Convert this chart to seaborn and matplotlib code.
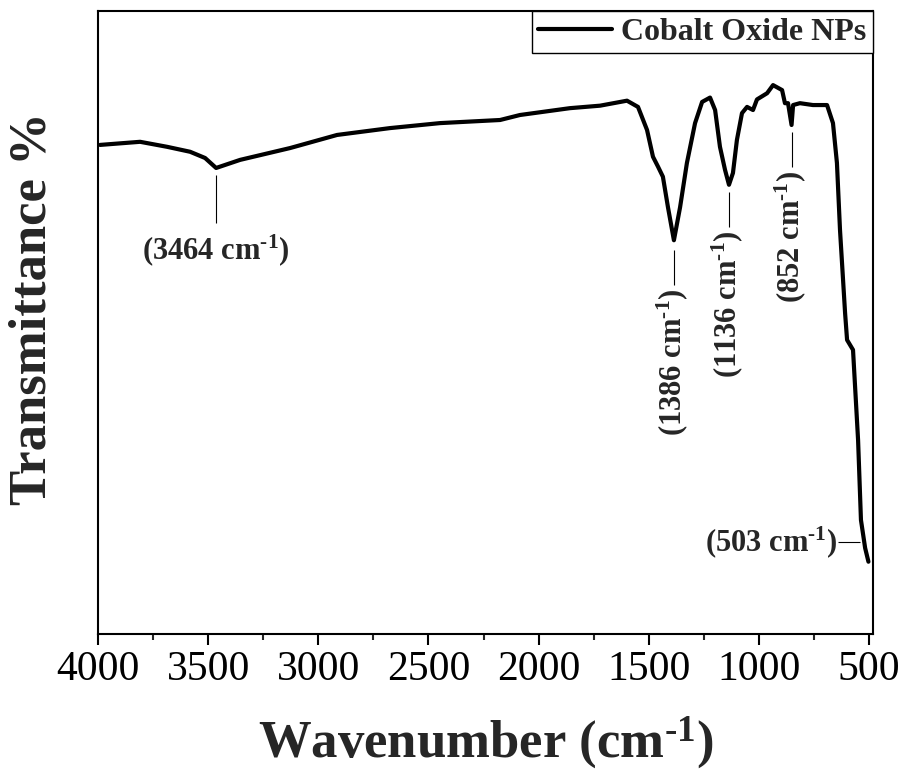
import numpy as np
import pandas as pd
import matplotlib
matplotlib.use("Agg")
import matplotlib.pyplot as plt
import seaborn as sns

# ---- data ----
wavenumber = [3991, 3809, 3687, 3582, 3514, 3464, 3355, 3128, 2915, 2675, 2448,
              2175, 2085, 1858, 1721, 1599, 1549, 1508, 1481, 1458, 1436, 1413,
              1386, 1358, 1327, 1290, 1258, 1222, 1199, 1177, 1154, 1136, 1118,
              1100, 1077, 1054, 1027, 1009, 963, 936, 895, 882, 868, 852, 845,
              814, 755, 691, 664, 646, 632, 609, 600, 573, 550, 537, 518, 503]
transmittance = [78.5, 79.0, 78.2, 77.4, 76.4, 74.8, 76.1, 78.0, 80.1, 81.2, 82.0,
                 82.5, 83.3, 84.4, 84.8, 85.6, 84.6, 80.9, 76.6, 75.0, 73.4, 68.5,
                 63.2, 68.5, 75.6, 82.0, 85.4, 86.1, 84.1, 78.2, 74.5, 72.1, 74.0,
                 79.3, 83.6, 84.6, 84.1, 85.8, 86.8, 88.1, 87.3, 85.2, 85.2, 81.7, 84.9,
                 85.2, 84.9, 84.9, 82.0, 75.6, 64.8, 51.5, 47.2, 45.6, 31.1, 18.3, 13.8, 11.6]
series_name = "Cobalt Oxide NPs"

SUP = "$^{\\mathbf{\\text{-}1}}$"
peak_positions = [3464, 1386, 1136, 852]
peak_labels = ["(3464 cm" + SUP + ")", "(1386 cm" + SUP + ")",
               "(1136 cm" + SUP + ")", "(852 cm" + SUP + ")"]
end_peak = 503
end_label = "(503 cm" + SUP + ")"

x_ticks = [4000, 3500, 3000, 2500, 2000, 1500, 1000, 500]

df = pd.DataFrame({"Wavenumber": wavenumber, "T": transmittance, "Sample": series_name})

# ---- style ----
sns.set_style("ticks")
plt.rcParams["font.family"] = ["Liberation Serif", "DejaVu Serif"]
plt.rcParams["mathtext.fontset"] = "custom"
plt.rcParams["mathtext.rm"] = "Liberation Serif:bold"
plt.rcParams["mathtext.bf"] = "Liberation Serif:bold"
plt.rcParams["mathtext.it"] = "Liberation Serif:italic"

fig = plt.figure(figsize=(9.01, 7.78), dpi=100)
ax = fig.add_axes([0.1088, 0.1851, 0.8602, 0.8008])

sns.lineplot(data=df, x="Wavenumber", y="T", hue="Sample", palette=["black"],
             linewidth=3, ax=ax, sort=False, estimator=None)

ax.set_xlim(4000, 482)
ax.set_ylim(0, 100)
ax.set_xticks(x_ticks)
ax.set_xticks([v - 250 for v in x_ticks[:-1]], minor=True)
ax.set_yticks([])
ax.tick_params(axis="x", which="major", length=8, width=1.5, direction="out",
               labelsize=30, pad=4, colors="black")
ax.tick_params(axis="x", which="minor", length=4.3, width=1.5, direction="out")
for s in ax.spines.values():
    s.set_visible(True)
    s.set_linewidth(1.5)
    s.set_color("black")

ax.set_xlabel("Wavenumber (cm" + SUP + ")", fontsize=38, fontweight="bold", labelpad=18)
ax.set_ylabel("Transmittance %", fontsize=38, fontweight="bold")
ax.yaxis.set_label_coords(-0.054, 0.522)

# ---- annotations ----
ann_fs = 22
line_kw = dict(color="black", linewidth=0.8)
# 3464 : horizontal label below
tp = np.interp(3464, wavenumber[::-1], transmittance[::-1])
ax.vlines(3464, tp - 8.8, tp - 1.1, **line_kw)
ax.text(3464, tp - 10.3, peak_labels[0], ha="center", va="top", fontsize=ann_fs,
        fontweight="bold")
# rotated labels
for pos, lab in zip(peak_positions[1:], peak_labels[1:]):
    tp = np.interp(pos, wavenumber[::-1], transmittance[::-1])
    gap = 1.2 if pos != 1386 else 1.6
    ax.vlines(pos, tp - gap - 5.6, tp - gap, **line_kw)
    ax.text(pos + 8, tp - gap - 6.1, lab, ha="center", va="top", rotation=90,
            fontsize=ann_fs, fontweight="bold")
# 503 : horizontal line to the left
te = 14.8
ax.hlines(te, 541, 641, **line_kw)
ax.text(646, te, end_label, ha="right", va="center", fontsize=ann_fs, fontweight="bold")

leg = ax.legend(loc="upper right", frameon=True, fancybox=False,
                borderaxespad=0, handlelength=2.3, handletextpad=0.3, borderpad=0.2,
                edgecolor="black", framealpha=1,
                prop={"weight": "bold", "size": 23})
leg.get_frame().set_linewidth(1.0)

fig.savefig("out.png", dpi=100)
